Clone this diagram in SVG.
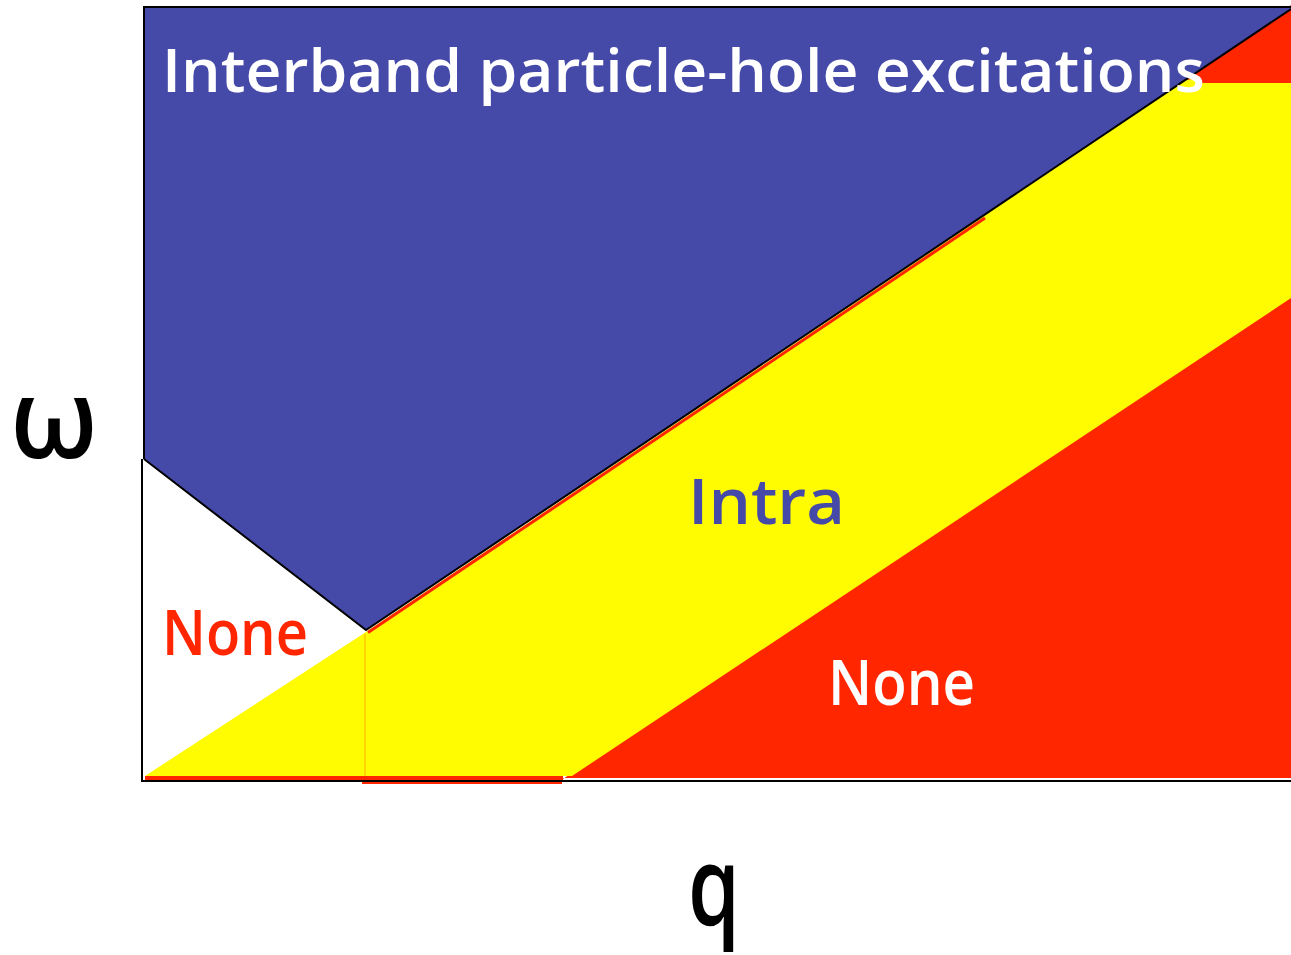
<svg xmlns="http://www.w3.org/2000/svg" width="1291" height="955" viewBox="0 0 1291 955">
<style>
.lbl{font-family:"Open Sans","Noto Sans","DejaVu Sans",sans-serif;}
.edge{stroke:#000;stroke-width:2;fill:none;}
</style>
<rect width="1291" height="955" fill="#fff"/>
<g id="red-top">
<polygon points="1291,5 1291,90 1170,90" fill="#FF2600"/>
</g>
<g id="red-bottom">
<polygon points="560,781 1291,290 1291,778 560,778" fill="#FF2600"/>
<rect x="145" y="776" width="418" height="5" fill="#FF2600"/>
<rect x="362" y="779" width="200" height="5" fill="#FF2600"/>
</g>
<g id="intra">
<polygon points="145,776 366,632 1186,80 1200,78 1202,83 1291,83 1291,298 572,776" fill="#FFFB00"/>
<line x1="365" y1="634" x2="365" y2="776" stroke="#FFB000" stroke-width="1"/>
</g>
<g id="interband">
<polygon points="144,7 1291,7 1291,9 366,630 144,459" fill="#4549A8"/>
</g>
<g id="connectors">
<line x1="368" y1="632.5" x2="985" y2="218" stroke="#FF2600" stroke-width="3"/>
<polyline class="edge" points="144,459 366,630 1291,9"/>
<polyline class="edge" points="144,459 144,7 1291,7"/>
<polyline class="edge" points="142,459 142,781 1291,781"/>
</g>
<g id="labels">
<text class="lbl" x="162" y="92" font-size="60" font-weight="600" fill="#fff" textLength="1043" lengthAdjust="spacingAndGlyphs">Interband particle-hole excitations</text>
<text class="lbl" x="688" y="524" font-size="64" font-weight="600" fill="#4549A8" textLength="157" lengthAdjust="spacingAndGlyphs">Intra</text>
<text class="lbl" x="162" y="655" font-size="64" font-weight="600" fill="#FF2600" textLength="146" lengthAdjust="spacingAndGlyphs">None</text>
<text class="lbl" x="828" y="705" font-size="64" font-weight="600" fill="#fff" textLength="147" lengthAdjust="spacingAndGlyphs">None</text>
<text class="lbl" x="10" y="458" font-size="110" font-weight="600" fill="#000" textLength="88" lengthAdjust="spacingAndGlyphs">ω</text>
<text class="lbl" x="688" y="925" font-size="110" font-weight="600" fill="#000" textLength="52" lengthAdjust="spacingAndGlyphs">q</text>
</g>
</svg>
